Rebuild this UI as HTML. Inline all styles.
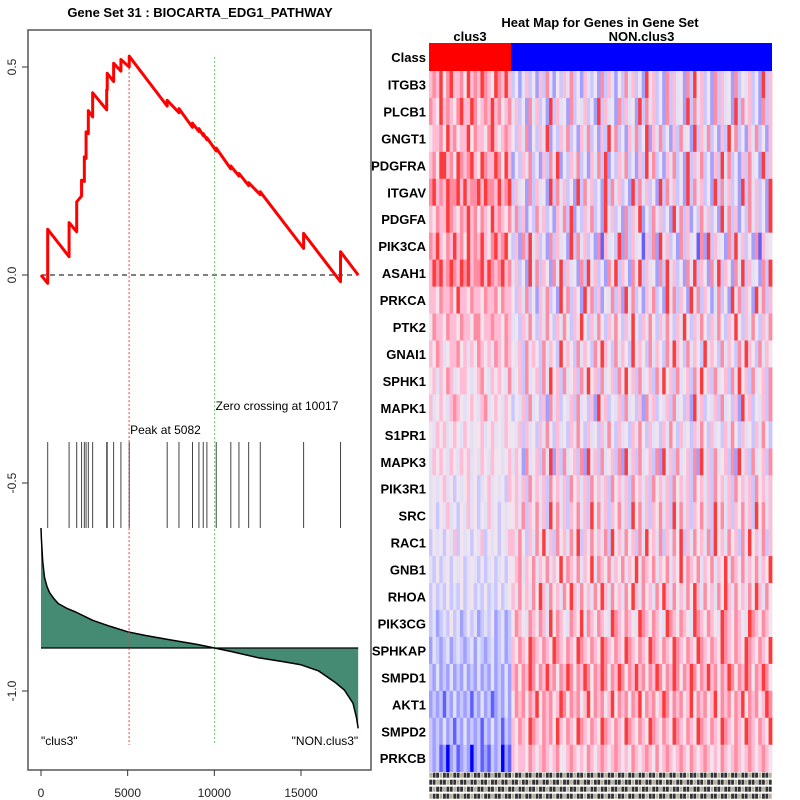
<!DOCTYPE html>
<html><head><meta charset="utf-8"><style>
body{margin:0;background:#fff}
svg{display:block;font-family:"Liberation Sans",sans-serif}
</style></head><body>
<svg id="c" width="800" height="800" viewBox="0 0 800 800"></svg>
<script>
// ---- Enrichment plot data ----
const hitRanks=[386,1620,2060,2340,2500,2600,2730,2980,3790,3820,4190,4610,5090,7280,7960,8740,9110,9360,9570,10110,10950,11420,11980,12650,15150,17280];
const esBefore=[-0.02,0.044,0.104,0.19,0.225,0.28,0.34,0.38,0.397,0.445,0.465,0.49,0.50,0.406,0.39,0.355,0.345,0.335,0.325,0.298,0.255,0.238,0.215,0.193,0.064,-0.016];
const esAfter=[0.11,0.126,0.176,0.228,0.284,0.344,0.395,0.438,0.445,0.485,0.509,0.518,0.526,0.42,0.40,0.365,0.352,0.34,0.33,0.305,0.262,0.244,0.222,0.2,0.1,0.056];
const totalGenes=18300;
const metricRanks=[0,20,50,100,200,350,500,750,1000,1500,2000,3000,4000,5000,6000,7500,9000,10017,11000,12500,14000,15000,16000,16500,17000,17500,18000,18200,18300];
const metricValues=[1.0,0.92,0.84,0.72,0.59,0.51,0.46,0.41,0.37,0.33,0.30,0.23,0.18,0.135,0.105,0.067,0.03,0,-0.03,-0.08,-0.115,-0.14,-0.19,-0.24,-0.29,-0.35,-0.46,-0.58,-0.67];
const xTicks=[0,5000,10000,15000];
const yTicks=[0.5,0.0,-0.5,-1.0];
const yTickLabels=["0.5","0.0","-0.5","-1.0"];
const peakRank=5082, zeroCross=10017;
// ---- Heatmap data ----
const genes=["ITGB3","PLCB1","GNGT1","PDGFRA","ITGAV","PDGFA","PIK3CA","ASAH1","PRKCA","PTK2","GNAI1","SPHK1","MAPK1","S1PR1","MAPK3","PIK3R1","SRC","RAC1","GNB1","RHOA","PIK3CG","SPHKAP","SMPD1","AKT1","SMPD2","PRKCB"];
const nClus=24;
const heatClus=["676857866758676876587686","765867657866875676867567","566758675668576657865676","675886758767865876687586","786768778686778687768678","657668765768675765867657","768657686758676865786785","687867876878677868767867","665766758665766576675766","576657665766577566766576","657645667564657656476576","564657645665456754656547","645654676545654674565465","546564565465455645645465","465654654656454654655456","454564535456453456454536","453546453546453546453545","354535463545354635453546","435345354534543534534535","353435343534534353435345","342343534235342343523423","243234234323424323423423","324232423242324232423242","232313242323132423123242","323242313242323132423132","323120231232023121323021"];
const heatNon=["3524635263742536473526435273642537463528463527364527384635273645273546352836","4635274635283645273546352836452736452837463527364528374635273645283746352736","5364725364825364735264735263847352647358264735263745283647352638473526473526","2536473526374825364735264738253647352638473526473528364735263847352637452836","3645273645283746352837463528374635283746352837463528374635283746352837463528","4736253746352647382536473528463527364825374635284736253746352847362537463528","3627384635273645283746352716453827364516372846352736451728364527384635271645","4635284736527483645273846352748365274836452738463527483652748365274836452738","5364735264735284736528473625473628473526473528473652847365247352847365284736","4536475364753647536485364753647536485364753647536485364753647536485364753647","5463746537465384653746537486537465384653746537486537465384653746537486537465","4563745637485637456374856374563748563745637485637456374856374563748563745637","3546374536274635463745362846354637453627463546374536284635463745362846354637","5463645364753645364753645364753645364753645364753645364753645364753645364753","4652745637482637456372846374563728463745637284637456372846374563728463745637","5646375646375646375646375646375646375646375646375646375646375646375646375646","5647365746385746365746385746365746385746365746385746365746385746365746385746","6475364758463756475836475647385647563748564736475836475647385647563748564736","5674657465746584765746584765746574658476574657465847657465746584765746574658","6475647586475647586475647586475647586475647586475647586475647586475647586475","5765476576485765476584765765487657654876576548765765487657654876576548765765","6576587657658765765876576587657658765765876576587657658765765876576587657658","6757687576867576875768757687576875768675768757687576875768675768757687576875","5767576857675687576756857675685767576857675687576756857675685767576857675687","6576587657675865765876576587657658765765876576587657658765765876576587657658","6566576567656755676565765676567656576567657567656765765676565765676567656765"];
const palette=["#0000ff","#6060ff","#a0a0ff","#c8c8ff","#e2e0f4","#f2e4ee","#ffbcd4","#ff8ca0","#ff3a3a"];

const svg=document.getElementById('c');
const NS='http://www.w3.org/2000/svg';
function mk(tag,attrs,parent){const e=document.createElementNS(NS,tag);for(const k in attrs)e.setAttribute(k,attrs[k]);(parent||svg).appendChild(e);return e;}
function txt(s,attrs){const e=mk('text',attrs);e.textContent=s;return e;}

const xS=r=>41+r*(260/15000);
const yS=v=>275-v*416;
const baseY=648, mS=m=>baseY-m*120;

let e;
e=mk('rect',{x:28,y:30,width:343,height:740,fill:'none',stroke:'#555','stroke-width':1.5});

e=txt('Gene Set  31 : BIOCARTA_EDG1_PATHWAY',{x:200,y:17,'text-anchor':'middle','font-size':13,'font-weight':'bold'});

e.setAttribute('xml:space','preserve');

xTicks.forEach(t=>{mk('line',{x1:xS(t),x2:xS(t),y1:770,y2:776,stroke:'#333'});
 e=txt(String(t),{x:xS(t),y:797,'text-anchor':'middle','font-size':12,fill:'#222'});
 });
yTicks.forEach((t,i)=>{const y=yS(t);mk('line',{x1:22,x2:28,y1:y,y2:y,stroke:'#333'});
 e=txt(yTickLabels[i],{x:0,y:0,transform:`translate(16,${y}) rotate(-90)`,'text-anchor':'middle','font-size':12,fill:'#222'});
 });

let pts=metricRanks.map((r,i)=>`${xS(r)},${mS(metricValues[i])}`);
e=mk('polygon',{points:`${xS(0)},${baseY} `+pts.join(' ')+` ${xS(totalGenes)},${baseY}`,fill:'#458b74'});

e=mk('polyline',{points:pts.join(' '),fill:'none',stroke:'#000','stroke-width':1.5,'stroke-linejoin':'round'});

mk('line',{x1:xS(0),x2:xS(totalGenes),y1:baseY,y2:baseY,stroke:'#000','stroke-width':1.2});

e=mk('line',{x1:xS(0),x2:xS(totalGenes),y1:yS(0),y2:yS(0),stroke:'#000','stroke-dasharray':'5,4'});


e=mk('line',{x1:xS(peakRank),x2:xS(peakRank),y1:yS(esAfter[12]),y2:745,stroke:'#e04040','stroke-dasharray':'2,2'});

e=mk('line',{x1:xS(zeroCross),x2:xS(zeroCross),y1:57,y2:745,stroke:'#66cc66','stroke-dasharray':'2,2'});


hitRanks.forEach(r=>{e=mk('line',{x1:xS(r),x2:xS(r),y1:442,y2:528,stroke:'#444','stroke-width':1});
 });

let d=`M${xS(0)},${yS(0)}`;
hitRanks.forEach((r,i)=>{d+=` L${xS(r)},${yS(esBefore[i])} L${xS(r)},${yS(esAfter[i])}`;});
d+=` L${xS(totalGenes)},${yS(0)}`;
e=mk('path',{d:d,fill:'none',stroke:'#ff0000','stroke-width':3,'stroke-linejoin':'round'});


e=txt('Peak at '+peakRank,{x:xS(peakRank)+1,y:434,'font-size':12});

e=txt('Zero crossing at '+zeroCross,{x:xS(zeroCross)+1,y:410,'font-size':12});

e=txt('"clus3"',{x:41,y:745,'font-size':12});

e=txt('"NON.clus3"',{x:xS(totalGenes),y:745,'font-size':12,'text-anchor':'end'});


const hx0=429,hx1=772,rowTop=71,rowH=26.95;
e=txt('Heat Map for Genes in Gene Set',{x:600,y:27,'text-anchor':'middle','font-size':13,'font-weight':'bold'});

const nTot=nClus+heatNon[0].length;
const cw=(hx1-hx0)/nTot;
const splitX=511;
e=txt('clus3',{x:(hx0+splitX)/2,y:41,'text-anchor':'middle','font-size':13,'font-weight':'bold'});

e=txt('NON.clus3',{x:(splitX+hx1)/2,y:41,'text-anchor':'middle','font-size':13,'font-weight':'bold'});

e=mk('rect',{x:hx0,y:43,width:splitX-hx0,height:28,fill:'#ff0000'});

e=mk('rect',{x:splitX,y:43,width:hx1-splitX,height:28,fill:'#0000ff'});

e=txt('Class',{x:426,y:62,'text-anchor':'end','font-size':13,'font-weight':'bold'});


genes.forEach((g,ri)=>{
  const row=heatClus[ri]+heatNon[ri];
  const y=rowTop+ri*rowH;
  const w=(hx1-hx0)/row.length;
  for(let c=0;c<row.length;c++){
    const cell=mk('rect',{x:hx0+c*w,y:y,width:w+0.4,height:rowH+0.4,fill:palette[+row[c]]});
    
    
  }
  const t=txt(g,{x:426,y:y+rowH/2+5,'text-anchor':'end','font-size':13,'font-weight':'bold'});
  
  
});

const sy0=rowTop+genes.length*rowH+1;
for(let k=0;k<4;k++){
  const yy=sy0+k*7;
  for(let c=0;c<nTot;c++){
    const r=mk('rect',{x:hx0+c*cw+0.3,y:yy,width:cw-0.6,height:5,fill:(c+k)%3===0?'#b8b0a0':'#333'});
    
    
  }
}
</script>
</body></html>
